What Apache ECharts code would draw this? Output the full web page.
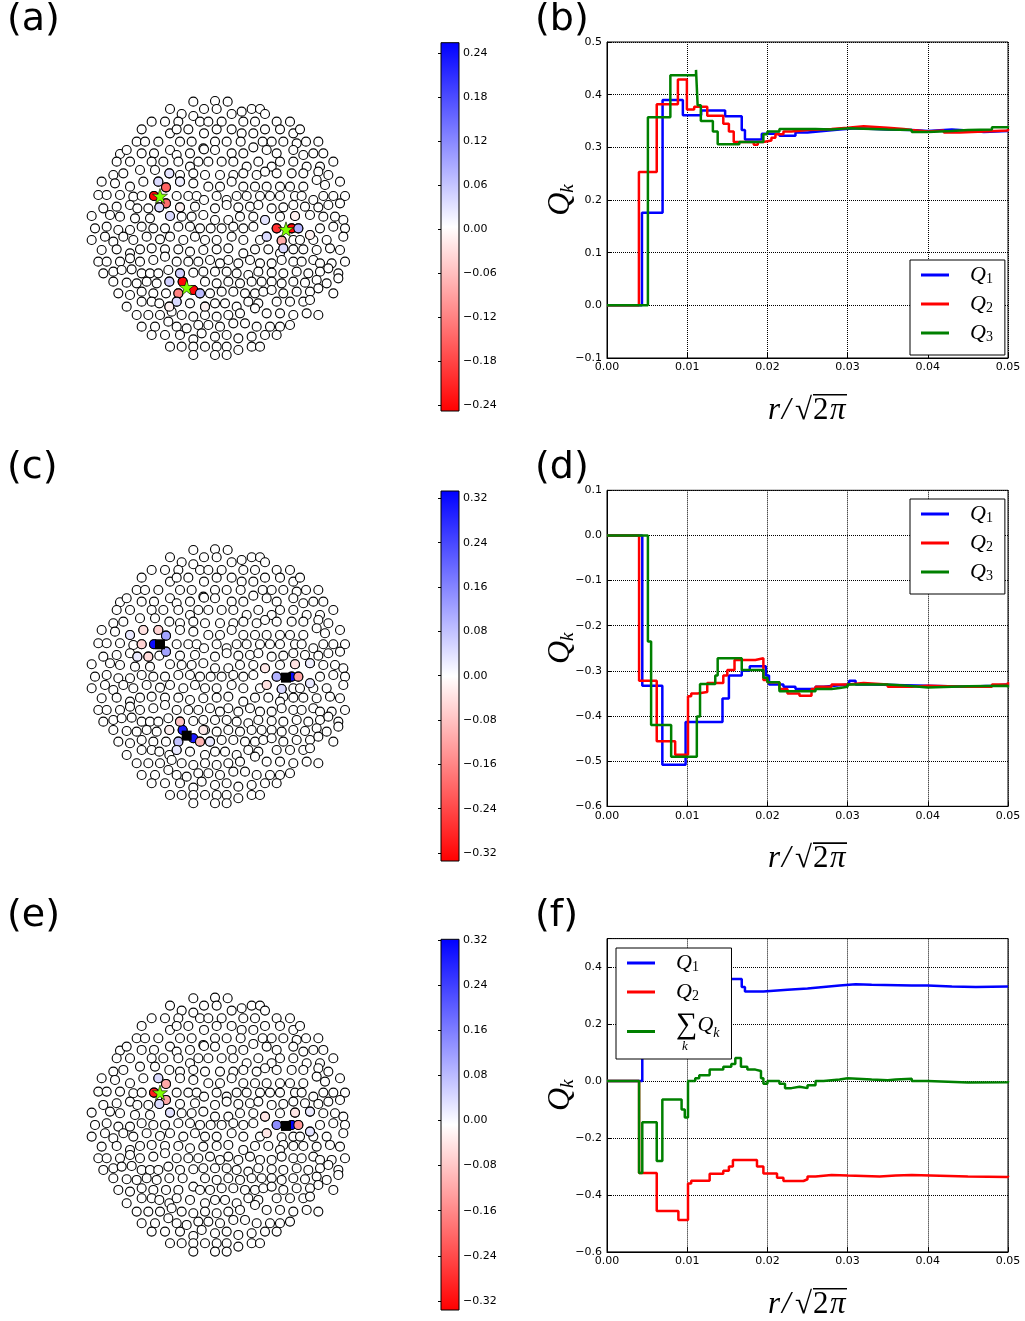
<!DOCTYPE html>
<html><head><meta charset="utf-8">
<script src="https://cdn.jsdelivr.net/npm/echarts@6/dist/echarts.min.js"></script>
<style>html,body{margin:0;padding:0;background:#fff}#c{width:1025px;height:1321px}</style>
</head><body><div id="c"></div><script>
// ---------- DATA ----------
// particle positions (picture units, same set in panels a, c, e)
const DISK_PTS = [
[340,35],[405,33],[443,35],
[270,57],[372,57],[410,57],[515,57],[540,57],
[305,72],[340,78],[455,72],[485,65],[555,72],
[215,95],[255,95],[295,95],[360,95],[385,95],[425,95],[490,95],[525,95],[590,95],[630,95],
[185,118],[270,130],[290,118],[325,118],[372,130],[410,118],[455,118],[485,130],[520,130],[555,118],[600,118],[640,130],[660,118],
[170,155],[195,155],[235,155],[300,155],[335,155],[370,175],[405,155],[440,155],[482,155],[520,172],[548,155],[575,155],[610,155],[650,160],[678,155],[715,155],
[120,192],[140,180],[185,190],[222,190],[270,180],[290,195],[330,190],[372,178],[405,180],[455,190],[490,190],[560,180],[590,190],[640,180],[670,195],[700,190],[730,190],
[110,215],[150,215],[215,215],[250,215],[295,215],[330,230],[355,215],[385,215],[425,215],[460,215],[500,230],[535,215],[575,230],[600,215],[640,215],[680,230],[720,230],[760,215],
[100,255],[130,250],[180,240],[225,240],[268,250],[300,255],[340,250],[375,255],[420,255],[460,255],[490,250],[530,255],[555,245],[590,250],[635,250],[670,250],[715,245],[745,255],
[65,275],[105,280],[150,290],[190,275],[235,275],[258,292],[300,275],[340,280],[385,290],[420,290],[455,275],[490,290],[525,290],[560,290],[600,290],[630,290],[670,290],[710,270],[735,285],[780,275],
[55,315],[80,315],[120,315],[160,320],[185,318],[222,318],[258,340],[290,318],[325,318],[350,318],[372,330],[410,318],[440,330],[470,318],[500,318],[540,318],[570,318],[600,318],[645,318],[665,318],[700,330],[730,318],[760,318],[795,318],
[70,355],[110,350],[150,345],[172,355],[205,355],[238,352],[270,378],[300,352],[345,350],[370,375],[405,355],[440,345],[475,352],[510,350],[535,345],[575,355],[610,352],[640,345],[675,350],[715,352],[745,345],[780,340],
[35,378],[90,375],[120,380],[165,385],[210,385],[305,380],[335,380],[405,390],[445,390],[480,380],[520,380],[555,390],[600,380],[645,378],[690,375],[730,380],[765,380],[790,390],
[45,415],[80,410],[115,420],[150,420],[185,410],[220,415],[255,415],[295,410],[330,410],[360,415],[392,415],[425,415],[460,410],[490,415],[520,410],[560,440],[590,415],[635,415],[655,415],[690,435],[720,415],[760,410],[795,415],
[35,450],[75,440],[100,455],[130,440],[160,450],[200,440],[240,448],[270,440],[310,450],[345,440],[375,450],[410,450],[455,440],[490,450],[540,450],[605,452],[610,475],[640,450],[660,450],[700,450],[740,450],[790,440],
[65,480],[110,478],[150,490],[180,478],[215,475],[255,478],[295,478],[330,485],[370,480],[410,478],[445,475],[490,490],[525,478],[565,478],[600,490],[640,478],[670,478],[710,480],[750,475],[780,480],
[55,515],[80,515],[120,515],[150,505],[180,515],[220,510],[255,500],[290,515],[325,515],[355,515],[390,510],[420,520],[445,510],[475,520],[510,510],[540,520],[575,520],[605,510],[640,515],[665,515],[700,510],[720,520],[755,520],[795,515],
[70,550],[100,545],[125,540],[155,538],[185,550],[210,550],[235,550],[265,540],[300,550],[340,548],[370,545],[405,545],[440,545],[470,550],[505,555],[535,545],[575,548],[610,550],[650,545],[685,550],[720,545],[745,535],[775,550],
[100,575],[140,578],[170,580],[200,575],[230,580],[268,575],[308,575],[340,600],[375,575],[410,580],[445,575],[480,580],[515,575],[545,575],[575,575],[605,580],[640,575],[675,578],[710,570],[740,580],[775,565],
[115,610],[150,615],[185,605],[220,610],[258,610],[295,610],[360,610],[390,610],[425,605],[460,605],[495,610],[525,610],[550,605],[575,600],[610,610],[650,605],[690,605],[715,595],[760,610],
[140,650],[185,635],[215,635],[238,640],[268,650],[290,635],[330,640],[375,650],[405,640],[435,640],[470,650],[505,635],[535,640],[590,635],[630,635],[670,635],[690,630],
[170,675],[205,675],[240,675],[275,665],[305,675],[340,680],[375,675],[410,680],[445,675],[480,670],[525,655],[560,670],[600,670],[640,675],[680,670],[715,675],
[185,710],[225,710],[265,695],[290,710],[320,715],[355,705],[385,705],[420,710],[460,700],[495,700],[530,710],[570,710],[600,710],[630,705],
[215,735],[255,735],[300,735],[340,748],[365,730],[405,740],[440,735],[475,745],[515,740],[555,735],[590,735],
[270,770],[305,770],[340,770],[375,770],[410,770],[440,770],[475,780],[515,770],[540,770],
[340,795],[405,795],[440,795]
];
// charged particles [x, y, value]
const A_CHARGES = [
[222,318,-0.24],[258,292,-0.15],[258,340,-0.14],[235,275,0.04],[238,352,0.04],[268,250,0.03],[270,378,0.04],[300,275,0.02],[300,352,-0.01],
[590,415,-0.2],[635,415,-0.24],[655,415,0.08],[605,452,-0.08],[560,440,0.04],[555,390,0.03],[610,475,0.04],[645,378,-0.01],[690,435,-0.01],
[308,575,-0.24],[340,600,-0.24],[295,610,-0.12],[360,610,0.07],[300,550,0.05],[268,575,0.05],[290,635,0.04],[268,650,-0.01],[375,650,-0.01]
];
const C_CHARGES = [
[222,318,0.32],[258,292,0.12],[258,340,0.12],[235,275,-0.06],[185,318,-0.06],[205,355,-0.05],[190,275,-0.04],[150,290,0.03],[172,355,0.03],
[590,415,0.1],[635,415,0.32],[655,415,-0.12],[605,452,0.05],[560,440,-0.04],[555,390,-0.03],[645,378,-0.04],[690,435,0.03],[690,375,0.02],
[308,575,0.3],[340,600,0.3],[295,610,0.08],[300,550,-0.08],[360,610,-0.1],[390,610,0.03],[268,575,-0.02],[290,635,0.03],[370,575,-0.03]
];
const E_CHARGES = [
[222,318,-0.3],[258,292,-0.12],[258,340,-0.12],[235,275,0.04],[238,352,0.04],[270,378,0.03],
[590,415,0.14],[635,415,0.32],[655,415,-0.14],[555,390,-0.04],[560,440,-0.04],[645,378,-0.04],[690,435,0.03],[690,375,0.02]
];
const A_STARS = [[240,318],[618,418],[320,592]];
const C_SQUARES = [[240,318],[618,418],[320,592]];
const E_STARS = [[240,318]];
const E_SQUARES = [[618,418]];

// colorbar ranges and ticks
const CB_RANGES = [[-0.248,0.2545],[-0.3344,0.3332],[-0.336,0.3212]];
const CB_TICKS = [
[-0.24,-0.18,-0.12,-0.06,0,0.06,0.12,0.18,0.24],
[-0.32,-0.24,-0.16,-0.08,0,0.08,0.16,0.24,0.32],
[-0.32,-0.24,-0.16,-0.08,0,0.08,0.16,0.24,0.32]
];

// step curves [r/sqrt(2pi), Q]
const B_Q1 = [[0,0],[0.00436,0.176],[0.00693,0.39],[0.00946,0.361],[0.01174,0.37],[0.01473,0.359],[0.0168,0.333],[0.0172,0.315],[0.0193,0.326],[0.0215,0.322],[0.0235,0.328],[0.025,0.331],[0.027,0.334],[0.029,0.336],[0.031,0.334],[0.035,0.333],[0.038,0.331],[0.040,0.334],[0.043,0.332],[0.045,0.329],[0.047,0.331],[0.05,0.33]];
const B_Q2 = [[0,0],[0.00398,0.253],[0.0062,0.382],[0.00884,0.429],[0.00996,0.372],[0.01087,0.377],[0.0125,0.36],[0.0145,0.345],[0.0152,0.33],[0.0158,0.31],[0.0183,0.305],[0.0188,0.31],[0.0195,0.313],[0.0205,0.318],[0.021,0.325],[0.022,0.33],[0.023,0.333],[0.025,0.335],[0.028,0.337],[0.03,0.34],[0.032,0.337],[0.035,0.335],[0.037,0.333],[0.038,0.33],[0.04,0.332],[0.042,0.328],[0.044,0.33],[0.047,0.332],[0.05,0.335]];
const B_Q3 = [[0,0],[0.0051,0.357],[0.0079,0.437],[0.0111,0.447],[0.0113,0.38],[0.0117,0.35],[0.0132,0.33],[0.0138,0.306],[0.0165,0.31],[0.0195,0.325],[0.02,0.33],[0.0215,0.335],[0.026,0.334],[0.028,0.336],[0.03,0.334],[0.035,0.333],[0.038,0.329],[0.04,0.331],[0.043,0.333],[0.045,0.334],[0.048,0.338],[0.05,0.34]];
const D_Q1 = [[0,0],[0.0044,-0.333],[0.0069,-0.508],[0.0098,-0.413],[0.0144,-0.361],[0.0152,-0.31],[0.0168,-0.3],[0.0178,-0.29],[0.0198,-0.31],[0.0202,-0.33],[0.022,-0.335],[0.0235,-0.34],[0.026,-0.335],[0.027,-0.332],[0.029,-0.33],[0.0302,-0.322],[0.031,-0.33],[0.033,-0.333],[0.04,-0.335],[0.045,-0.333],[0.048,-0.33],[0.05,-0.333]];
const D_Q2 = [[0,0],[0.004,-0.322],[0.0062,-0.456],[0.0085,-0.486],[0.0101,-0.356],[0.0105,-0.35],[0.0113,-0.347],[0.0125,-0.327],[0.0145,-0.31],[0.015,-0.298],[0.0159,-0.276],[0.0185,-0.272],[0.0195,-0.32],[0.02,-0.325],[0.0215,-0.34],[0.0225,-0.35],[0.024,-0.355],[0.0255,-0.34],[0.026,-0.335],[0.028,-0.33],[0.03,-0.327],[0.032,-0.33],[0.035,-0.335],[0.038,-0.333],[0.04,-0.335],[0.045,-0.335],[0.048,-0.33],[0.05,-0.325]];
const D_Q3 = [[0,0],[0.0051,-0.235],[0.0055,-0.42],[0.008,-0.49],[0.0112,-0.401],[0.0116,-0.329],[0.0135,-0.31],[0.0138,-0.272],[0.0168,-0.298],[0.0195,-0.315],[0.02,-0.325],[0.0215,-0.345],[0.025,-0.345],[0.026,-0.34],[0.028,-0.338],[0.029,-0.335],[0.03,-0.33],[0.035,-0.333],[0.0375,-0.337],[0.04,-0.334],[0.045,-0.333],[0.05,-0.337]];
const F_Q1 = [[0,0],[0.0044,0.176],[0.0069,0.39],[0.0095,0.361],[0.0117,0.37],[0.0147,0.358],[0.0168,0.33],[0.0172,0.314],[0.0195,0.32],[0.0225,0.325],[0.025,0.33],[0.027,0.335],[0.029,0.34],[0.031,0.338],[0.033,0.335],[0.038,0.335],[0.04,0.332],[0.043,0.33],[0.046,0.332],[0.05,0.333]];
const F_Q2 = [[0,0],[0.004,-0.323],[0.0062,-0.456],[0.0089,-0.488],[0.0101,-0.36],[0.0105,-0.35],[0.0128,-0.326],[0.0145,-0.315],[0.0152,-0.3],[0.0157,-0.277],[0.0187,-0.3],[0.0195,-0.325],[0.0212,-0.34],[0.022,-0.351],[0.0245,-0.345],[0.025,-0.335],[0.026,-0.33],[0.028,-0.332],[0.03,-0.335],[0.034,-0.332],[0.036,-0.33],[0.038,-0.335],[0.045,-0.337],[0.05,-0.333]];
const F_SUM = [[0,0],[0.004,-0.323],[0.0044,-0.145],[0.0062,-0.281],[0.0069,-0.065],[0.0093,-0.1],[0.0097,-0.128],[0.0101,0.0],[0.011,0.01],[0.0115,0.02],[0.0128,0.04],[0.0145,0.05],[0.0155,0.06],[0.016,0.081],[0.0167,0.05],[0.0175,0.04],[0.0185,0.035],[0.0192,0.01],[0.0195,-0.01],[0.02,0.0],[0.0215,-0.01],[0.0222,-0.025],[0.023,-0.02],[0.024,-0.025],[0.025,-0.015],[0.026,0.0],[0.027,0.005],[0.029,0.01],[0.03,0.005],[0.033,0.003],[0.035,0.005],[0.036,0.008],[0.038,0.0],[0.04,-0.005],[0.045,-0.004],[0.05,0.0]];
const Y_RANGES = [[-0.1,0.5,0.1],[-0.6,0.1,0.1],[-0.6,0.5,0.2]];

// ---------- CHART ----------
const chart = echarts.init(document.getElementById('c'), null, {renderer:'canvas'});
const ROW_OFF = [0, 448.3, 896.6];
const CB_BOX = [[42.7,368.3],[491,370],[939.3,370.7]];
const SERIF = 'Liberation Serif';
const STAR = 'path://M50,0 L61.8,35.1 L98.6,35.1 L68.8,56.9 L79.4,91.9 L50,70.3 L20.6,91.9 L31.2,56.9 L1.4,35.1 L38.2,35.1 Z';

function bwr(v, rng){
  let t = (v - rng[0])/(rng[1]-rng[0]); t = Math.max(0, Math.min(1, t));
  let r,g,b;
  if (t < 0.5){ r = 1; g = b = 2*t; } else { r = g = 2 - 2*t; b = 1; }
  return 'rgb(' + Math.round(r*255) + ',' + Math.round(g*255) + ',' + Math.round(b*255) + ')';
}
const minus = s => s.replace('-', '\u2212');

const grid = [], xAxis = [], yAxis = [], series = [], title = [];
const LETTERS = [['(a)','(b)'],['(c)','(d)'],['(e)','(f)']];
const CHARGES = [A_CHARGES, C_CHARGES, E_CHARGES];
const LINES = [
  [['Q1',B_Q1,'#0000ff'],['Q2',B_Q2,'#ff0000'],['Q3',B_Q3,'#008000']],
  [['Q1',D_Q1,'#0000ff'],['Q2',D_Q2,'#ff0000'],['Q3',D_Q3,'#008000']],
  [['Q1',F_Q1,'#0000ff'],['Q2',F_Q2,'#ff0000'],['SumQ',F_SUM,'#008000']]
];
const XNAME = '{sp| }{bar| }\n{r|r}{sl|/}{sq|\u221A}{tp|2}{pi|\u03C0}';
const XRICH = {
  sp:{width:45, height:1.6, lineHeight:1.6, fontSize:1},
  bar:{width:34, height:1.6, lineHeight:1.6, fontSize:1, backgroundColor:'#000'},
  r:{fontFamily:SERIF, fontStyle:'italic', fontSize:31, lineHeight:30, width:14, align:'left', color:'#000'},
  sl:{fontFamily:SERIF, fontStyle:'italic', fontSize:31, lineHeight:30, width:13, align:'left', color:'#000'},
  sq:{fontFamily:SERIF, fontSize:31, lineHeight:30, width:18, align:'left', color:'#000'},
  tp:{fontFamily:SERIF, fontSize:31, lineHeight:30, width:17, align:'left', color:'#000'},
  pi:{fontFamily:SERIF, fontStyle:'italic', fontSize:31, lineHeight:30, width:17, align:'left', color:'#000'}
};

for (let r = 0; r < 3; r++){
  const off = ROW_OFF[r];
  title.push({text: LETTERS[r][0], left: 7, top: 1 + off, padding: 0, textStyle:{fontFamily:'DejaVu Sans', fontSize:38, fontWeight:'normal', color:'#000'}});
  title.push({text: LETTERS[r][1], left: 535, top: 1 + off, padding: 0, textStyle:{fontFamily:'DejaVu Sans', fontSize:38, fontWeight:'normal', color:'#000'}});

  // scatter grid
  const gS = grid.length;
  grid.push({left: 80, top: 90 + off, width: 280, height: 270});
  xAxis.push({gridIndex: gS, type:'value', min:0, max:840, show:false});
  yAxis.push({gridIndex: gS, type:'value', min:0, max:810, inverse:true, show:false});
  series.push({type:'scatter', xAxisIndex:gS, yAxisIndex:gS, data: DISK_PTS, symbolSize: 9, silent:true,
    itemStyle:{color:'#fff', borderColor:'#000', borderWidth:1.1, opacity:1}});
  const rng = CB_RANGES[r];
  series.push({type:'scatter', xAxisIndex:gS, yAxisIndex:gS, data: CHARGES[r], symbolSize: 9, silent:true,
    itemStyle:{color: p => bwr(p.value[2], rng), borderColor:'#000', borderWidth:1.1, opacity:1}});
  const stars = r === 0 ? A_STARS : (r === 2 ? E_STARS : []);
  const squares = r === 1 ? C_SQUARES : (r === 2 ? E_SQUARES : []);
  if (squares.length) series.push({type:'scatter', xAxisIndex:gS, yAxisIndex:gS, data: squares, symbol:'rect', symbolSize: 10, silent:true, z: 5,
    itemStyle:{color:'#000', opacity:1}});
  if (stars.length) series.push({type:'scatter', xAxisIndex:gS, yAxisIndex:gS, data: stars, symbol: STAR, symbolSize: 15, silent:true, z: 5,
    itemStyle:{color:'#7fff00', borderColor:'#000', borderWidth:0.6, opacity:1}});

  // colorbar grid
  const gC = grid.length;
  grid.push({left: 441, top: CB_BOX[r][0], width: 18, height: CB_BOX[r][1], show:true, borderColor:'#000', borderWidth:1,
    backgroundColor: new echarts.graphic.LinearGradient(0,0,0,1,[{offset:0,color:'#0000ff'},{offset:0.5,color:'#ffffff'},{offset:1,color:'#ff0000'}])});
  xAxis.push({gridIndex: gC, type:'value', min:0, max:1, show:false});
  yAxis.push({gridIndex: gC, type:'value', min: rng[0], max: rng[1], position:'right',
    axisLine:{show:false}, splitLine:{show:false},
    axisTick:{show:true, inside:true, length:3, customValues: CB_TICKS[r], lineStyle:{color:'#000'}},
    axisLabel:{show:true, customValues: CB_TICKS[r], margin: 4, fontFamily:'DejaVu Sans', fontSize:11, color:'#000',
      formatter: v => minus(v.toFixed(2))}});

  // line chart grid
  const gL = grid.length;
  grid.push({left: 607, top: 42 + off, width: 401, height: 316, show:true, borderColor:'#000', borderWidth:1, backgroundColor:'transparent'});
  xAxis.push({gridIndex: gL, type:'value', min:0, max:0.05, interval:0.01,
    name: XNAME, nameLocation:'middle', nameGap: 36,
    nameTextStyle:{color:'#000', align:'center', rich: XRICH},
    axisLine:{show:true, onZero:false, lineStyle:{color:'#000', width:1}},
    axisTick:{show:true, inside:true, length:5, lineStyle:{color:'#000'}},
    axisLabel:{margin:4, fontFamily:'DejaVu Sans', fontSize:11, color:'#000', formatter: v => v.toFixed(2)},
    splitLine:{show:true, lineStyle:{color:'#000', type:'dotted', width:1}}});
  const yr = Y_RANGES[r];
  yAxis.push({gridIndex: gL, type:'value', min: yr[0], max: yr[1], interval: yr[2],
    name: '{q|Q}{s|k}', nameLocation:'middle', nameRotate: 90, nameGap: 30, nameMoveOverlap: false,
    nameTextStyle:{color:'#000', rich:{q:{fontFamily:SERIF, fontStyle:'italic', fontSize:32, lineHeight:32, verticalAlign:'top', padding:[0,0,8,0], color:'#000'},
      s:{fontFamily:SERIF, fontStyle:'italic', fontSize:19, lineHeight:19, verticalAlign:'bottom', color:'#000'}}},
    axisLine:{show:true, onZero:false, lineStyle:{color:'#000', width:1}},
    axisTick:{show:true, inside:true, length:5, lineStyle:{color:'#000'}},
    axisLabel:{margin:5, fontFamily:'DejaVu Sans', fontSize:11, color:'#000',
      formatter: v => (v > yr[1] - 1e-9 && r === 2) ? '' : minus(v.toFixed(1))},
    splitLine:{show:true, lineStyle:{color:'#000', type:'dotted', width:1}}});
  for (const [name, data, color] of LINES[r]){
    series.push({type:'line', name, xAxisIndex:gL, yAxisIndex:gL, data, step:'end', showSymbol:false, symbol:'none', silent:true,
      color, lineStyle:{color, width:2.5}, z: 3});
  }
}

const legRich = {
  q:{fontFamily:SERIF, fontStyle:'italic', fontSize:22, lineHeight:22, verticalAlign:'top', padding:[0,0,5,16], color:'#000'},
  s:{fontFamily:SERIF, fontSize:14, lineHeight:14, verticalAlign:'bottom', color:'#000'},
  sk:{fontFamily:SERIF, fontStyle:'italic', fontSize:14, lineHeight:14, verticalAlign:'bottom', color:'#000'},
  sig:{fontFamily:SERIF, fontSize:30, lineHeight:30, verticalAlign:'top', padding:[0,0,2,16], color:'#000'},
  q2:{fontFamily:SERIF, fontStyle:'italic', fontSize:22, lineHeight:22, verticalAlign:'middle', color:'#000'},
  kk:{fontFamily:SERIF, fontStyle:'italic', fontSize:13, lineHeight:13, padding:[0,0,0,22], color:'#000'}
};
const legFmt = n => n === 'SumQ' ? '{sig|\u2211}{q2|Q}{sk|k}\n{kk|k}' : '{q|Q}{s|' + n.slice(1) + '}';
const legBase = {orient:'vertical', icon:'rect', itemWidth:28, itemHeight:3, itemGap:2, borderColor:'#000', borderWidth:1,
  backgroundColor:'#fff', padding:[4,12,6,11], formatter: legFmt, textStyle:{rich: legRich}, selectedMode:false, z: 10};
const legend = [
  Object.assign({}, legBase, {data:['Q1','Q2','Q3'], left: 910, top: 260}),
  Object.assign({}, legBase, {data:['Q1','Q2','Q3'], left: 910, top: 499}),
  Object.assign({}, legBase, {data:['Q1','Q2','SumQ'], left: 616, top: 948})
];

chart.setOption({animation:false, backgroundColor:'#fff', title, grid, xAxis, yAxis, series, legend});
</script></body></html>
